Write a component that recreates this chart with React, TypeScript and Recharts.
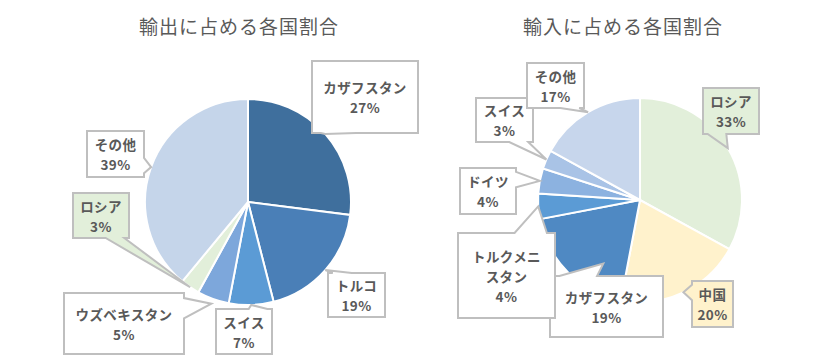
import React from 'react';
import { PieChart, Pie, Cell } from 'recharts';

// ---- data ----
const exportNames = ['カザフスタン', 'トルコ', 'スイス', 'ウズベキスタン', 'ロシア', 'その他'];
const exportShares = [27, 19, 7, 5, 3, 39];
const importNames = ['ロシア', '中国', 'カザフスタン', 'トルクメニスタン', 'ドイツ', 'スイス', 'その他'];
const importShares = [33, 20, 19, 4, 4, 3, 17];
const exportTitle = '輸出に占める各国割合';
const importTitle = '輸入に占める各国割合';

// ---- styles ----
const exportColors = ['#3F6F9D', '#4A7FB7', '#5B9BD5', '#7DA7DB', '#E2EFDA', '#C5D5EA'];
const importColors = ['#E2EFDA', '#FFF2CC', '#4F89C3', '#5B9BD5', '#8CB2E0', '#A9C3E6', '#C7D6EC'];
const exportBoxFill = ['#FFFFFF', '#FFFFFF', '#FFFFFF', '#FFFFFF', '#E2EFDA', '#FFFFFF'];
const importBoxFill = ['#E2EFDA', '#FFF2CC', '#FFFFFF', '#FFFFFF', '#FFFFFF', '#FFFFFF', '#FFFFFF'];

type Box = { x: number; y: number; w: number; h: number; brk?: number; tipR?: number; tipDA?: number };
const exportBoxes: Box[] = [
  { x: 312, y: 61, w: 106, h: 72 },
  { x: 328, y: 273, w: 57, h: 44 },
  { x: 216, y: 309, w: 56, h: 45 },
  { x: 64, y: 293, w: 120, h: 61, tipR: 1.05 },
  { x: 73, y: 193, w: 56, h: 45 },
  { x: 87, y: 131, w: 57, h: 46 },
];
const importBoxes: Box[] = [
  { x: 703, y: 88, w: 56, h: 46 },
  { x: 692, y: 281, w: 41, h: 46 },
  { x: 550, y: 276, w: 113, h: 61, tipR: 0.72, tipDA: 15 },
  { x: 458, y: 233, w: 97, h: 85, brk: 5 },
  { x: 460, y: 168, w: 56, h: 46 },
  { x: 476, y: 98, w: 57, h: 44 },
  { x: 527, y: 63, w: 57, h: 45 },
];

const FONT = "'Noto Sans CJK JP', 'Noto Sans', sans-serif";
const TEXT = '#595959';
const BORDER = '#BFBFBF';
const RAD = Math.PI / 180;

function calloutPath(b: Box, tx: number, ty: number): string {
  const { x, y, w, h } = b;
  const inside = tx >= x && tx <= x + w && ty >= y && ty <= y + h;
  const cxb = x + w / 2;
  const cyb = y + h / 2;
  const dx = tx - cxb;
  const dy = ty - cyb;
  let top = '', right = '', bottom = '', left = '';
  if (!inside) {
    if (Math.abs(dx) / w > Math.abs(dy) / h) {
      const ya = dy < 0 ? y + h / 12 : y + (7 * h) / 12;
      const yb = dy < 0 ? y + (5 * h) / 12 : y + (11 * h) / 12;
      if (dx > 0) right = `L${x + w},${ya} L${tx},${ty} L${x + w},${yb} `;
      else left = `L${x},${yb} L${tx},${ty} L${x},${ya} `;
    } else {
      const xa = dx < 0 ? x + w / 12 : x + (7 * w) / 12;
      const xb = dx < 0 ? x + (5 * w) / 12 : x + (11 * w) / 12;
      if (dy < 0) top = `L${xa},${y} L${tx},${ty} L${xb},${y} `;
      else bottom = `L${xb},${y + h} L${tx},${ty} L${xa},${y + h} `;
    }
  }
  return `M${x},${y} ${top}L${x + w},${y} ${right}L${x + w},${y + h} ${bottom}L${x},${y + h} ${left}Z`;
}

function makeLabel(boxes: Box[], fills: string[]) {
  return (props: any) => {
    const { cx, cy, midAngle, outerRadius, index, name, value } = props;
    const b = boxes[index];
    if (!b) return null;
    const r = outerRadius * (b.tipR ?? 1);
    const ang = midAngle + (b.tipDA ?? 0);
    const tx = cx + r * Math.cos(-ang * RAD);
    const ty = cy + r * Math.sin(-ang * RAD);
    const nameLines: string[] = b.brk ? [name.slice(0, b.brk), name.slice(b.brk)] : [name];
    const lines = [...nameLines, `${value}%`];
    const lh = 20;
    const c = b.y + b.h / 2;
    const start = c - ((lines.length - 1) * lh) / 2;
    return (
      <g key={`lbl-${index}`}>
        <path d={calloutPath(b, tx, ty)} fill={fills[index]} stroke={BORDER} strokeWidth={2} strokeLinejoin="miter" />
        {lines.map((t, i) => (
          <text
            key={i}
            x={b.x + b.w / 2}
            y={start + i * lh}
            textAnchor="middle"
            dominantBaseline="central"
            fontFamily={FONT}
            fontSize={13.5}
            fontWeight={700}
            fill={TEXT}
            letterSpacing={0.4}
          >
            {t}
          </text>
        ))}
      </g>
    );
  };
}

const exportData = exportNames.map((name, i) => ({ name, value: exportShares[i] }));
const importData = importNames.map((name, i) => ({ name, value: importShares[i] }));

export default function App() {
  return (
    <div style={{ position: 'absolute', left: 0, top: 0, width: 825, height: 360, background: '#fff' }}>
      <div style={{ position: 'absolute', left: 0, top: 0, width: 825, height: 360 }}>
        <PieChart width={825} height={360} margin={{ top: 0, right: 0, bottom: 0, left: 0 }}>
          <Pie
            data={exportData}
            dataKey="value"
            nameKey="name"
            cx={248}
            cy={202}
            outerRadius={103}
            startAngle={90}
            endAngle={-270}
            stroke="#FFFFFF"
            strokeWidth={2}
            isAnimationActive={false}
            labelLine={false}
            label={makeLabel(exportBoxes, exportBoxFill)}
          >
            {exportData.map((d, i) => (
              <Cell key={d.name} fill={exportColors[i]} />
            ))}
          </Pie>
          <Pie
            data={importData}
            dataKey="value"
            nameKey="name"
            cx={640}
            cy={200}
            outerRadius={102}
            startAngle={90}
            endAngle={-270}
            stroke="#FFFFFF"
            strokeWidth={2}
            isAnimationActive={false}
            labelLine={false}
            label={makeLabel(importBoxes, importBoxFill)}
          >
            {importData.map((d, i) => (
              <Cell key={d.name} fill={importColors[i]} />
            ))}
          </Pie>
        </PieChart>
      </div>
      <div
        style={{
          position: 'absolute', left: 139, top: 12, width: 200, textAlign: 'center',
          fontFamily: FONT, fontSize: 19, color: TEXT, letterSpacing: 1, whiteSpace: 'nowrap',
        }}
      >
        {exportTitle}
      </div>
      <div
        style={{
          position: 'absolute', left: 523, top: 12, width: 200, textAlign: 'center',
          fontFamily: FONT, fontSize: 19, color: TEXT, letterSpacing: 1, whiteSpace: 'nowrap',
        }}
      >
        {importTitle}
      </div>
    </div>
  );
}
